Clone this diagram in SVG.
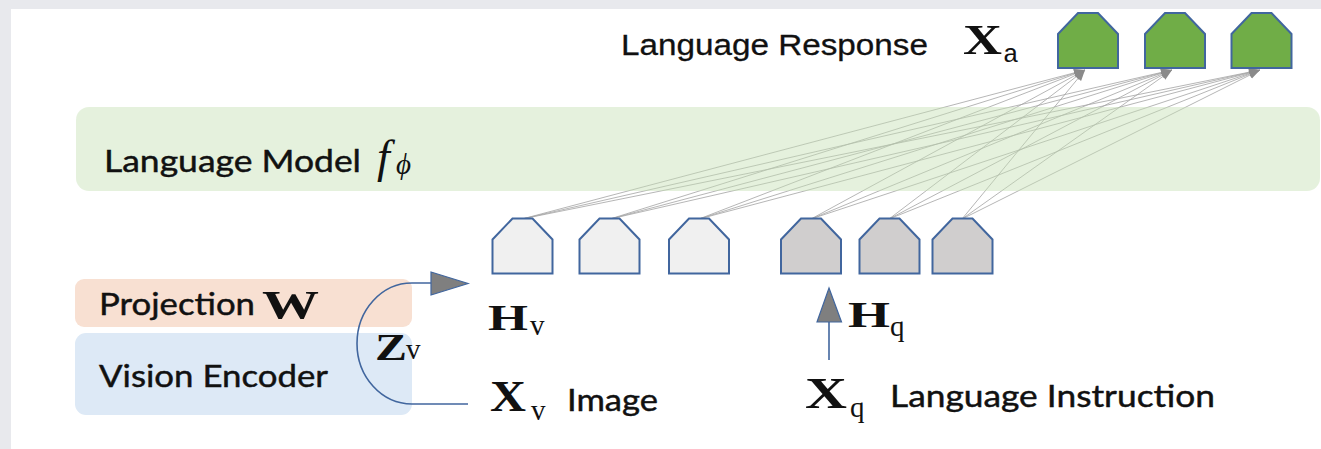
<svg xmlns="http://www.w3.org/2000/svg" width="1321" height="449" viewBox="0 0 1321 449">
<style>
.tok{stroke:#41669e;stroke-width:2;stroke-linejoin:miter}
.light{fill:#f0f0f0}
.dark{fill:#d0cece}
.green{fill:#70ad47}
.conn{stroke:#a3a3a3;stroke-width:0.8;fill:none}
.lbl{font-family:Lato,"Noto Sans",sans-serif;font-size:31px;fill:#111;stroke:#111;stroke-width:0.45}
.bf{font-family:"Liberation Serif","DejaVu Serif",serif;font-weight:bold;fill:#111}
.sub{font-family:"Liberation Serif","DejaVu Serif",serif;font-size:29px;fill:#111}
.subm{font-family:"Liberation Mono","DejaVu Sans Mono",monospace;font-size:26px;fill:#111}
.blue{stroke:#41669e;stroke-width:1.6;fill:none}
.head{fill:#7f7f7f;stroke:#41669e;stroke-width:1.2}
</style>
<defs>
<marker id="ah" markerUnits="userSpaceOnUse" markerWidth="12" markerHeight="10" refX="11" refY="4" orient="auto">
<path d="M0,0 L11,4 L0,8 Z" fill="#8a8a8a"/>
</marker>
<path id="pent" d="M0,21 L20,0 L40,0 L60,21 L60,55 L0,55 Z"/>
</defs>
<g id="frame">
<rect x="0" y="0" width="1321" height="449" fill="#e8e9ed"/>
<rect x="11" y="9" width="1310" height="440" fill="#ffffff"/>
</g>
<g id="connectors">
<line class="conn" x1="522" y1="219" x2="1085" y2="70" marker-end="url(#ah)"/>
<line class="conn" x1="522" y1="219" x2="1172" y2="70" marker-end="url(#ah)"/>
<line class="conn" x1="522" y1="219" x2="1260" y2="70" marker-end="url(#ah)"/>
<line class="conn" x1="610" y1="219" x2="1085" y2="70" marker-end="url(#ah)"/>
<line class="conn" x1="610" y1="219" x2="1172" y2="70" marker-end="url(#ah)"/>
<line class="conn" x1="610" y1="219" x2="1260" y2="70" marker-end="url(#ah)"/>
<line class="conn" x1="699" y1="219" x2="1085" y2="70" marker-end="url(#ah)"/>
<line class="conn" x1="699" y1="219" x2="1172" y2="70" marker-end="url(#ah)"/>
<line class="conn" x1="699" y1="219" x2="1260" y2="70" marker-end="url(#ah)"/>
<line class="conn" x1="811" y1="219" x2="1085" y2="70" marker-end="url(#ah)"/>
<line class="conn" x1="811" y1="219" x2="1172" y2="70" marker-end="url(#ah)"/>
<line class="conn" x1="811" y1="219" x2="1260" y2="70" marker-end="url(#ah)"/>
<line class="conn" x1="889" y1="219" x2="1085" y2="70" marker-end="url(#ah)"/>
<line class="conn" x1="889" y1="219" x2="1172" y2="70" marker-end="url(#ah)"/>
<line class="conn" x1="889" y1="219" x2="1260" y2="70" marker-end="url(#ah)"/>
<line class="conn" x1="962" y1="219" x2="1085" y2="70" marker-end="url(#ah)"/>
<line class="conn" x1="962" y1="219" x2="1172" y2="70" marker-end="url(#ah)"/>
<line class="conn" x1="962" y1="219" x2="1260" y2="70" marker-end="url(#ah)"/>
</g>
<g id="language-model">
<rect x="76" y="107" width="1244" height="84" rx="13" fill="#c5e0b4" fill-opacity="0.45"/>
<text class="lbl" x="104" y="172" textLength="257" lengthAdjust="spacingAndGlyphs">Language Model</text>
<text x="377" y="172" font-family="'Liberation Serif',serif" font-style="italic" font-size="46" fill="#111">f</text>
<text x="396" y="174" font-family="'Liberation Serif',serif" font-style="italic" font-size="29" fill="#111">ϕ</text>
</g>
<g id="projection">
<rect x="75" y="279" width="337" height="48" rx="9" fill="#f8e0d2"/>
<text class="lbl" x="99" y="315" textLength="156" lengthAdjust="spacingAndGlyphs">Projection</text>
<text class="bf" x="262" y="318" font-size="41" textLength="57" lengthAdjust="spacingAndGlyphs">W</text>
</g>
<g id="vision-encoder">
<rect x="75" y="333" width="337" height="82" rx="11" fill="#dde9f6"/>
<text class="lbl" x="99" y="387" textLength="229" lengthAdjust="spacingAndGlyphs">Vision Encoder</text>
</g>
<g id="zv-arrow">
<path class="blue" d="M468,404 H412 A55,60.5 0 0 1 412,283 H432"/>
<polygon class="head" points="431,272 468,283.5 431,295"/>
<text class="bf" x="375" y="360" font-size="38" textLength="32" lengthAdjust="spacingAndGlyphs">Z</text>
<text class="sub" x="406" y="359">v</text>
</g>
<g id="hq-arrow">
<line class="blue" x1="829" y1="360" x2="829" y2="322"/>
<polygon class="head" points="829,288 841.5,322 817,322"/>
</g>
<g id="vision-tokens">
<use href="#pent" class="tok light" x="492.5" y="218.5"/>
<use href="#pent" class="tok light" x="579.5" y="218.5"/>
<use href="#pent" class="tok light" x="669" y="218.5"/>
</g>
<g id="instruction-tokens">
<use href="#pent" class="tok dark" x="781" y="218.5"/>
<use href="#pent" class="tok dark" x="859.5" y="218.5"/>
<use href="#pent" class="tok dark" x="932.5" y="218.5"/>
</g>
<g id="response-tokens">
<use href="#pent" class="tok green" x="1058" y="13"/>
<use href="#pent" class="tok green" x="1145" y="13"/>
<use href="#pent" class="tok green" x="1231.5" y="13"/>
</g>
<g id="response-label">
<text x="621" y="55" font-family="'Liberation Sans',Arial,sans-serif" font-size="30" fill="#111" stroke="#111" stroke-width="0.3" textLength="307" lengthAdjust="spacingAndGlyphs">Language Response</text>
<text class="bf" x="963" y="54" font-size="43" textLength="39" lengthAdjust="spacingAndGlyphs">X</text>
<text class="subm" x="1003" y="62">a</text>
</g>
<g id="hv-label">
<text class="bf" x="488" y="330" font-size="36" textLength="40" lengthAdjust="spacingAndGlyphs">H</text>
<text class="sub" x="530" y="335">v</text>
</g>
<g id="xv-label">
<text class="bf" x="490" y="411" font-size="44" textLength="36" lengthAdjust="spacingAndGlyphs">X</text>
<text class="sub" x="531" y="420">v</text>
<text class="lbl" x="567" y="411" textLength="91" lengthAdjust="spacingAndGlyphs">Image</text>
</g>
<g id="hq-label">
<text class="bf" x="848" y="327" font-size="36" textLength="42" lengthAdjust="spacingAndGlyphs">H</text>
<text class="sub" x="890" y="336">q</text>
</g>
<g id="xq-label">
<text class="bf" x="805" y="408" font-size="45" textLength="42" lengthAdjust="spacingAndGlyphs">X</text>
<text class="sub" x="850" y="417">q</text>
<text class="lbl" x="890" y="407" textLength="325" lengthAdjust="spacingAndGlyphs">Language Instruction</text>
</g>
</svg>
